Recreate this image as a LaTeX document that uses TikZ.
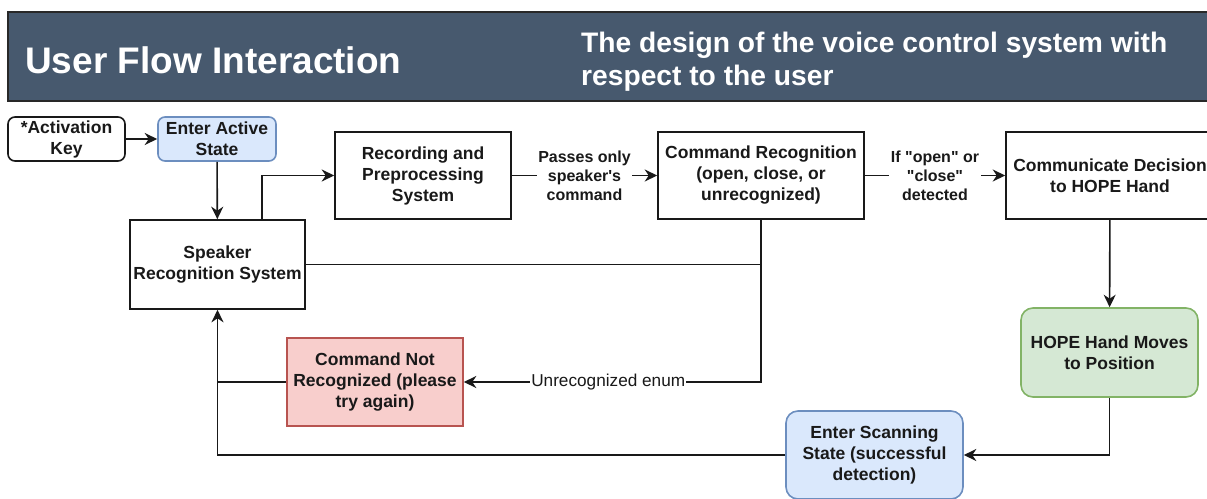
\documentclass[tikz,border=0pt]{standalone}
\usepackage{fontspec}
\setmainfont{Liberation Sans}[Ligatures=TeXOff]
\usetikzlibrary{arrows.meta}

\definecolor{headbg}{RGB}{71,89,110}
\definecolor{headline}{RGB}{40,40,40}
\definecolor{bluefill}{HTML}{DAE8FC}
\definecolor{blueline}{HTML}{6C8EBF}
\definecolor{greenfill}{HTML}{D5E8D4}
\definecolor{greenline}{HTML}{82B366}
\definecolor{redfill}{HTML}{F8CECC}
\definecolor{redline}{HTML}{B85450}
\definecolor{ink}{RGB}{25,25,25}

\tikzset{
  box/.style={draw=ink, line width=1.6pt, fill=white, inner sep=0pt, align=center,
    font=\fontsize{17.5}{21}\selectfont\bfseries, text=ink},
  softbox/.style={box, rounded corners=7pt},
  bluebox/.style={box, rounded corners=12pt, fill=bluefill, draw=blueline},
  greenbox/.style={box, rounded corners=12pt, fill=greenfill, draw=greenline},
  redbox/.style={box, fill=redfill, draw=redline},
  link/.style={draw=ink, line width=1.6pt},
  arr/.style={link, -{Stealth[length=12.5pt,width=12pt,inset=4pt]}},
  tag/.style={fill=white, inner sep=1.5pt, align=center, text=ink,
    font=\fontsize{16}{19.2}\selectfont\bfseries},
  plaintag/.style={fill=white, inner sep=1pt, text=ink,
    font=\fontsize{17.2}{20.6}\selectfont}
}

\begin{document}
\begin{tikzpicture}[x=1pt, y=-1pt]
\useasboundingbox (0,0) rectangle (1207,498);

% title band
\draw[fill=headbg, draw=headline, line width=1.2pt] (8,12) rectangle (1220,101);
\node[anchor=base west, inner sep=0pt, text=white, font=\fontsize{37}{44}\selectfont\bfseries]
  (title) at (25,73) {User Flow Interaction};
\node[anchor=base west, inner sep=0pt, text=white, font=\fontsize{28.2}{34}\selectfont\bfseries]
  (sub1) at (581,52) {The design of the voice control system with};
\node[anchor=base west, inner sep=0pt, text=white, font=\fontsize{28.2}{34}\selectfont\bfseries]
  (sub2) at (581,85) {respect to the user};

% process steps
\node[softbox, minimum width=117pt, minimum height=44pt] (akey) at (66.5,139) {*Activation\\Key};
\node[bluebox, rounded corners=7pt, minimum width=118pt, minimum height=44pt] (active) at (217,139) {Enter Active\\State};
\node[box, minimum width=175pt, minimum height=89pt] (srs) at (217.5,264.5) {Speaker\\Recognition System};
\node[box, minimum width=176pt, minimum height=87pt] (rec) at (423,175.5) {Recording and\\Preprocessing\\System};
\node[box, minimum width=206pt, minimum height=87pt] (cmd) at (761,175.5) {Command Recognition\\(open, close, or\\unrecognized)};
\node[box, minimum width=208pt, minimum height=87pt] (comm) at (1110,175.5) {Communicate Decision\\to HOPE Hand};
\node[greenbox, minimum width=177pt, minimum height=89pt] (hope) at (1109.5,352.5) {HOPE Hand Moves\\to Position};
\node[redbox, minimum width=176pt, minimum height=88pt] (cnr) at (375,382) {Command Not\\Recognized (please\\try again)};
\node[bluebox, minimum width=177pt, minimum height=88pt] (scan) at (874.5,455) {Enter Scanning\\State (successful\\detection)};

% connectors
\draw[arr] (akey) -- (active);
\draw[arr] (active) -- (srs);
\draw[arr] ([xshift=44.5pt]srs.north) |- (rec.west);
\draw[arr] (rec) -- node[tag] (lpass) {Passes only\\speaker's\\command} (cmd);
\draw[arr] (cmd) -- node[tag] (lopen) {If "open" or\\"close"\\detected} (comm);
\draw[arr] (cmd.south) |- node[plaintag, pos=0.757] (lunrec) {Unrecognized enum} (cnr.east);
\draw[link] (srs.east) -- (srs.east -| cmd.south);
\draw[link] (cnr.west) -- (cnr.west -| srs.south);
\draw[arr] (comm) -- (hope);
\draw[arr] (hope.south) |- (scan.east);
\draw[arr] (scan.west) -| (srs.south);
\end{tikzpicture}
\end{document}
